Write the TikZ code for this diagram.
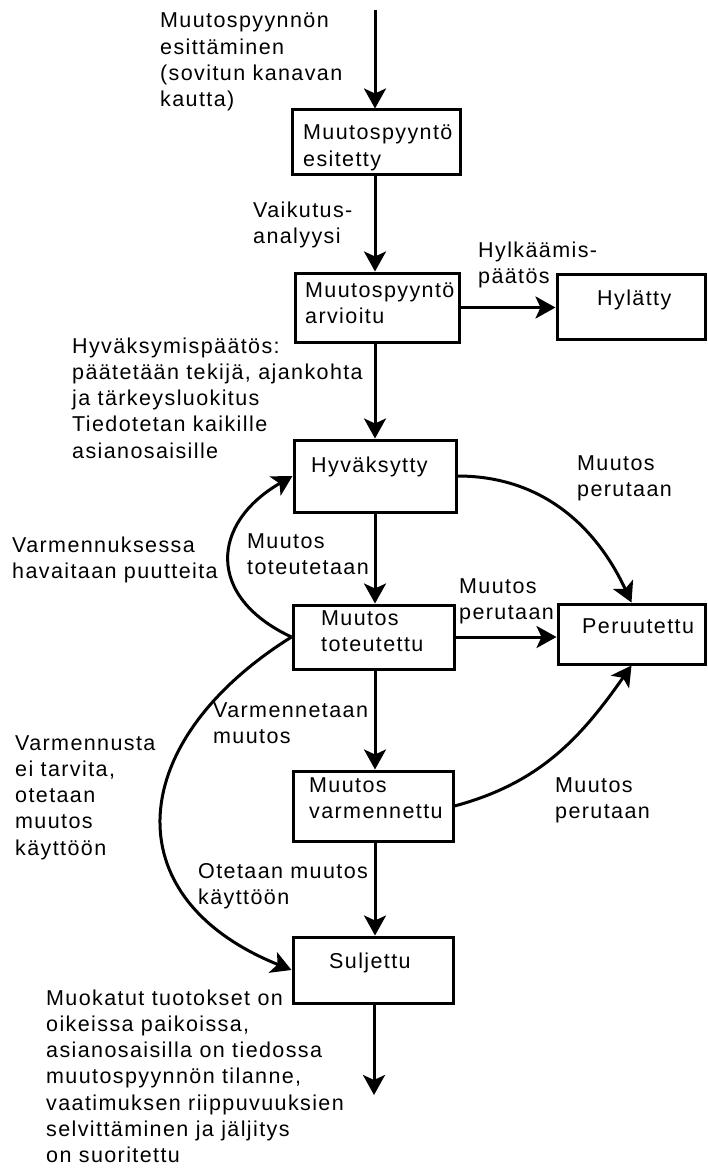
\documentclass[tikz,border=0pt]{standalone}
\usepackage{fontspec}
\setmainfont{Liberation Sans}[LetterSpace=6.5]
\usetikzlibrary{arrows.meta}
\begin{document}
\begin{tikzpicture}[x=1pt,y=1pt,
  box/.style={draw, line width=3pt, inner sep=0pt},
  txt/.style={inner sep=0pt, anchor=base west, align=left,
    font=\fontsize{21.5}{26.3}\selectfont},
  arr/.style={line width=3pt, -{Stealth[length=20pt,width=22pt,inset=5pt]}}]
\useasboundingbox (0,0) rectangle (707,-1169);
% boxes
\node[box, minimum width=168pt, minimum height=65pt] (b1) at (376,-142.5) {};
\node[box, minimum width=164pt, minimum height=69pt] (b2) at (377,-307.5) {};
\node[box, minimum width=148pt, minimum height=65pt] (hyl) at (631,-306.5) {};
\node[box, minimum width=162pt, minimum height=72pt] (hyv) at (375,-476) {};
\node[box, minimum width=161pt, minimum height=64pt] (tot) at (373.5,-637) {};
\node[box, minimum width=147pt, minimum height=60pt] (per) at (631.5,-634) {};
\node[box, minimum width=160pt, minimum height=70pt] (var) at (373,-806) {};
\node[box, minimum width=160pt, minimum height=66pt] (sul) at (373,-970) {};
% box texts (anchor = baseline of last line)
\node[txt] (t1) at (303,-166.3) {Muutospyyntö\\esitetty};
\node[txt] (t2) at (305,-323.3) {Muutospyyntö\\arvioitu};
\node[txt] (t3) at (597,-305) {Hylätty};
\node[txt] (t4) at (311,-472) {Hyväksytty};
\node[txt] (t5) at (321,-651.3) {Muutos\\toteutettu};
\node[txt] (t6) at (582,-633) {Peruutettu};
\node[txt] (t7) at (309,-818.3) {Muutos\\varmennettu};
\node[txt] (t8) at (329,-968) {Suljettu};
% labels
\node[txt] (l1) at (160,-106.9) {Muutospyynnön\\esittäminen\\(sovitun kanavan\\kautta)};
\node[txt] (l2) at (253,-243.3) {Vaikutus-\\analyysi};
\node[txt] (l3) at (478,-283.3) {Hylkäämis-\\päätös};
\node[txt] (l4) at (72,-458.2) {Hyväksymispäätös:\\päätetään tekijä, ajankohta\\ja tärkeysluokitus\\Tiedotetan kaikille\\asianosaisille};
\node[txt] (l5) at (577,-496.3) {Muutos\\perutaan};
\node[txt] (l6) at (12,-578.3) {Varmennuksessa\\havaitaan puutteita};
\node[txt] (l7) at (247,-574.3) {Muutos\\toteutetaan};
\node[txt] (l8) at (459,-619.3) {Muutos\\perutaan};
\node[txt] (l9) at (213,-743.3) {Varmennetaan\\muutos};
\node[txt] (l10) at (15,-855.2) {Varmennusta\\ei tarvita,\\otetaan\\muutos\\käyttöön};
\node[txt] (l11) at (555,-818.3) {Muutos\\perutaan};
\node[txt] (l12) at (198,-904.3) {Otetaan muutos\\käyttöön};
\node[txt] (l13) at (46,-1162.8) {Muokatut tuotokset on\\oikeissa paikoissa,\\asianosaisilla on tiedossa\\muutospyynnön tilanne,\\vaatimuksen riippuvuuksien\\selvittäminen ja jäljitys\\on suoritettu};
% connectors
\coordinate (vx) at (375,0);
\coordinate (start) at (375,-10);
\coordinate (end) at (374,-1095);
\draw[arr] (start) -- (b1.north -| vx);
\draw[arr] (b1.south -| vx) -- (b2.north -| vx);
\draw[arr] (b2.east) -- (b2.east -| hyl.west);
\draw[arr] (b2.south -| vx) -- (hyv.north -| vx);
\draw[arr] (hyv.south -| vx) -- (tot.north -| vx);
\draw[arr] (tot.east) -- (tot.east -| per.west);
\draw[arr] (tot.south -| vx) -- (var.north -| vx);
\draw[arr] (var.south -| vx) -- (sul.north -| vx);
\draw[arr] (sul.south -| end) -- (end);
\draw[arr] (hyv.east) to[out=0,in=115] (per.north);
\draw[arr] (tot.west) to[out=155,in=210,looseness=1.5] (hyv.west);
\draw[arr] (tot.west) to[out=212,in=158,looseness=1.5] (sul.west);
\draw[arr] (var.east) to[out=15,in=235] (per.south);
\end{tikzpicture}
\end{document}
